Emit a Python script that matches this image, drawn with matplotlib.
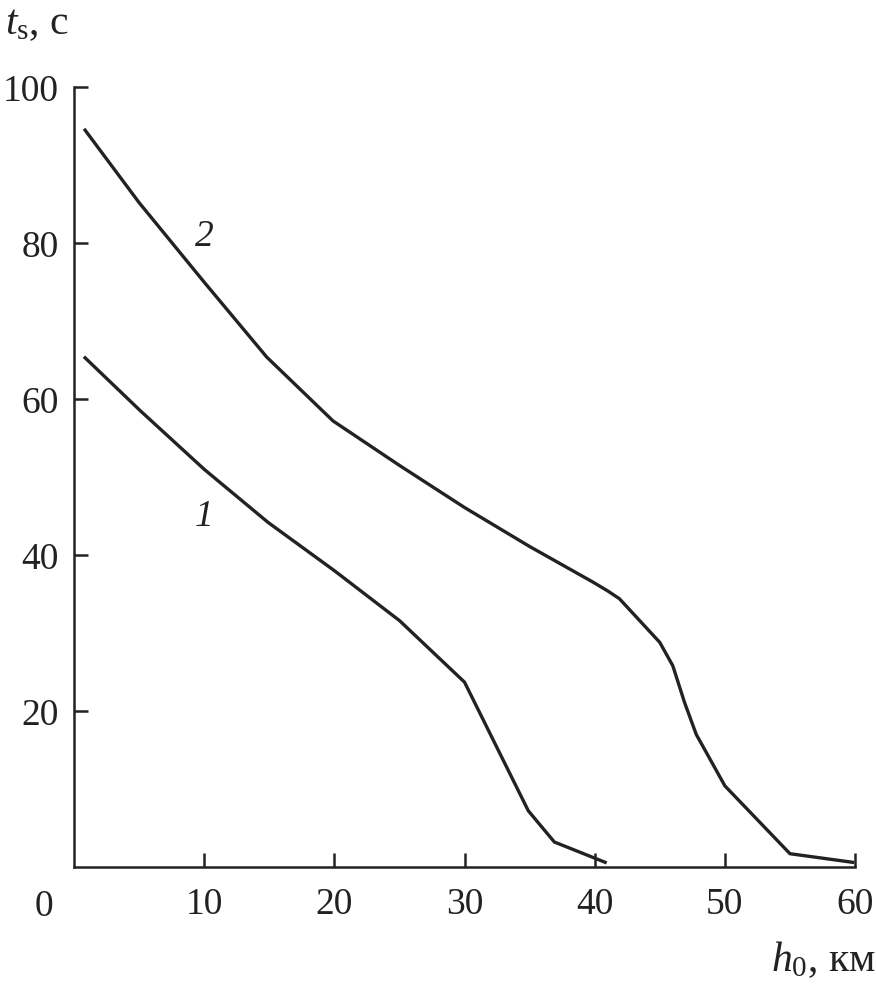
import matplotlib
matplotlib.use("Agg")
import matplotlib.pyplot as plt

plt.rcParams["font.family"] = ["Liberation Serif", "DejaVu Serif"]
plt.rcParams["mathtext.fontset"] = "custom"
plt.rcParams["mathtext.rm"] = "Liberation Serif"
plt.rcParams["mathtext.it"] = "Liberation Serif:italic"

# curve 1
h_1 = [0.85, 5.1, 10, 14.9, 20, 25, 30, 34.9, 36.9, 40.8]
t_1 = [65.3, 58.5, 51.0, 44.2, 38.0, 31.6, 23.7, 7.2, 3.2, 0.6]
# curve 2
h_2 = [0.85, 5, 10, 14.8, 19.9, 25, 30, 35, 39.9, 41, 41.9, 45, 46, 46.9,
       47.8, 50, 55, 59.8]
t_2 = [94.5, 85.2, 75.0, 65.4, 57.2, 51.5, 46.1, 41.1, 36.5, 35.4, 34.4,
       28.8, 25.8, 21.1, 17.0, 10.4, 1.7, 0.6]

x_ticks = [10, 20, 30, 40, 50, 60]
y_ticks = [20, 40, 60, 80, 100]

fig = plt.figure(figsize=(8.76, 9.87), dpi=100)
ax = fig.add_axes([0.0845, 0.1206, 0.8916, 0.790])

line_kw = dict(color="#222222", linewidth=2.4, solid_joinstyle="miter")
ax.plot(h_1, t_1, **line_kw)
ax.plot(h_2, t_2, **line_kw)

ax.set_xlim(0, 60)
ax.set_ylim(0, 100)
ax.spines["top"].set_visible(False)
ax.spines["right"].set_visible(False)
for side in ("left", "bottom"):
    ax.spines[side].set_linewidth(1.8)
    ax.spines[side].set_color("#222222")

ax.set_xticks(x_ticks)
ax.set_yticks(y_ticks)
ax.tick_params(axis="both", direction="in", length=10, width=1.8,
               color="#222222", labelsize=27, labelcolor="#222222")
ax.tick_params(axis="x", pad=14)
ax.tick_params(axis="y", pad=11)

# shared origin label
ax.text(-0.039, -0.05, "0", transform=ax.transAxes, fontsize=27,
        color="#222222", ha="center", va="center")

ax.text(-0.088, 1.083, r"$t_\mathrm{s}$, с", transform=ax.transAxes,
        fontsize=30, color="#222222", ha="left", va="center")
ax.text(1.027, -0.118, r"$h_0$, км", transform=ax.transAxes,
        fontsize=30, color="#222222", ha="right", va="center")

ax.text(10, 81, "2", fontsize=27, style="italic", color="#222222",
        ha="center", va="center")
ax.text(10, 45, "1", fontsize=27, style="italic", color="#222222",
        ha="center", va="center")

fig.savefig("out.png", dpi=100)
